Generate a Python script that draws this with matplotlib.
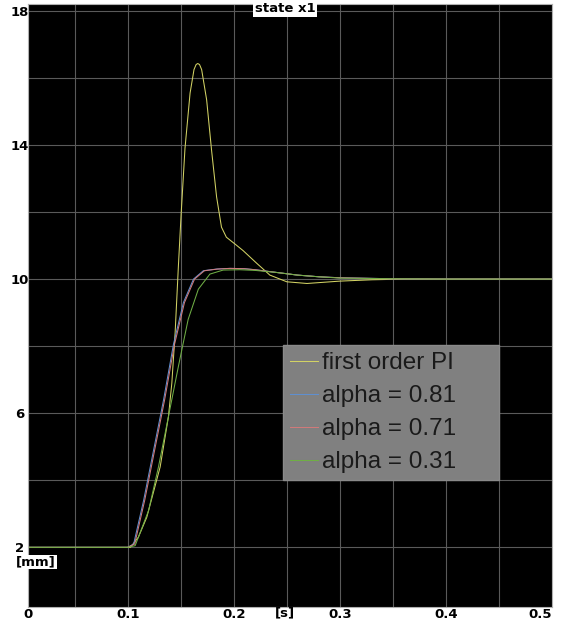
import numpy as np
import matplotlib
matplotlib.use('Agg')
import matplotlib.pyplot as plt

# 数据
t_pi = [0.0, 0.1, 0.1025, 0.11, 0.118, 0.1306, 0.1384, 0.1416, 0.1447, 0.1478, 0.1503,
        0.154, 0.1588, 0.1625, 0.1645, 0.166, 0.1677, 0.1697, 0.1744, 0.179, 0.1838,
        0.1884, 0.193, 0.201, 0.2088, 0.2217, 0.234, 0.25, 0.269, 0.3, 0.33, 0.36, 0.5]
x_pi = [2.0, 2.0, 2.0, 2.3, 2.9, 4.4, 5.9, 6.9, 8.4, 10.4, 11.9,
        13.9, 15.55, 16.25, 16.4, 16.43, 16.4, 16.25, 15.35, 13.86, 12.45,
        11.55, 11.25, 11.05, 10.85, 10.47, 10.12, 9.92, 9.87, 9.94, 9.98, 10.0, 10.0]

t_a81 = [0.0, 0.1, 0.1056, 0.115, 0.1244, 0.1338, 0.1431, 0.1525, 0.162, 0.1713, 0.1838,
         0.196, 0.21, 0.22, 0.24, 0.26, 0.28, 0.3, 0.35, 0.4, 0.5]
x_a81 = [2.0, 2.0, 2.1, 3.4, 4.9, 6.4, 8.05, 9.3, 10.0, 10.25, 10.3,
         10.32, 10.31, 10.28, 10.2, 10.12, 10.07, 10.04, 10.01, 10.0, 10.0]

t_a71 = [0.0, 0.1, 0.1066, 0.116, 0.1254, 0.1348, 0.1441, 0.1535, 0.163, 0.1723, 0.1848,
         0.197, 0.21, 0.22, 0.24, 0.26, 0.28, 0.3, 0.35, 0.4, 0.5]
x_a71 = [2.0, 2.0, 2.1, 3.4, 4.9, 6.4, 8.05, 9.3, 10.0, 10.25, 10.3,
         10.32, 10.31, 10.28, 10.2, 10.12, 10.07, 10.04, 10.01, 10.0, 10.0]

t_a31 = [0.0, 0.1, 0.107, 0.1197, 0.129, 0.1384, 0.1478, 0.157, 0.1666, 0.1775, 0.19,
         0.2056, 0.22, 0.24, 0.26, 0.28, 0.3, 0.35, 0.4, 0.5]
x_a31 = [2.0, 2.0, 2.05, 3.1, 4.4, 5.9, 7.4, 8.8, 9.7, 10.15, 10.27,
         10.28, 10.26, 10.2, 10.12, 10.07, 10.03, 10.01, 10.0, 10.0]

labels = ['first order PI', 'alpha = 0.81', 'alpha = 0.71', 'alpha = 0.31']
colors = ['#d2d264', '#5f8fd0', '#d07a7a', '#6fae45']

fig = plt.figure(figsize=(5.62, 6.25), dpi=100)
ax = fig.add_axes([28/562, 1-606.7/625, 524/562, 603.2/625])
ax.set_facecolor('black')

for t, x, lab, c in zip([t_pi, t_a81, t_a71, t_a31], [x_pi, x_a81, x_a71, x_a31], labels, colors):
    ax.plot(t, x, color=c, lw=0.75, label=lab)

ax.set_xlim(0.006, 0.5)
ax.set_ylim(0.23, 18.22)

# 刻度
ax.set_xticks([0.006, 0.1, 0.2, 0.3, 0.4, 0.5])
ax.set_xticklabels(['0', '0.1', '0.2', '0.3', '0.4', '0.5'])
ax.set_xticks(np.arange(0.05, 0.5, 0.1), minor=True)
ax.set_yticks([2, 6, 10, 14, 18])
ax.set_yticks([4, 8, 12, 16], minor=True)
ax.tick_params(which='both', length=0)
ax.tick_params(axis='x', pad=1, labelsize=9.5)
ax.tick_params(axis='y', pad=6, labelsize=9.5)
for lb in ax.get_xticklabels() + ax.get_yticklabels():
    lb.set_fontweight('bold')
for lb in ax.get_yticklabels():
    lb.set_horizontalalignment('center')
ax.get_xticklabels()[-1].set_horizontalalignment('right')
ax.get_xticklabels()[0].set_horizontalalignment('center')

ax.grid(True, which='both', color='#5a5a5a', lw=0.8)
for s in ax.spines.values():
    s.set_color('#b0b0b0')
    s.set_linewidth(0.8)

# 文字标注
fig.text(285/562, 1-9/625, 'state x1', ha='center', va='center', fontsize=9.5, fontweight='bold',
         bbox=dict(facecolor='white', edgecolor='none', pad=1))
fig.text(36/562, 1-562/625, '[mm]', ha='center', va='center', fontsize=9.5, fontweight='bold',
         bbox=dict(facecolor='white', edgecolor='none', pad=0.5))
fig.text(285/562, 1-613/625, '[s]', ha='center', va='center', fontsize=9.5, fontweight='bold')

# 图例
leg = ax.legend(loc='upper left', bbox_to_anchor=(0.4866, 0.21, 0.4122, 0.2238), mode='expand',
                borderaxespad=0, prop={'family': 'Liberation Sans', 'size': 17.5},
                facecolor='#808080', edgecolor='#8a8a8a', framealpha=1, fancybox=False,
                handlelength=1.15, handletextpad=0.15, labelspacing=0.45, borderpad=0.3)
for txt in leg.get_texts():
    txt.set_color('#1a1a1a')

fig.savefig('out.png', dpi=100, facecolor='white')
